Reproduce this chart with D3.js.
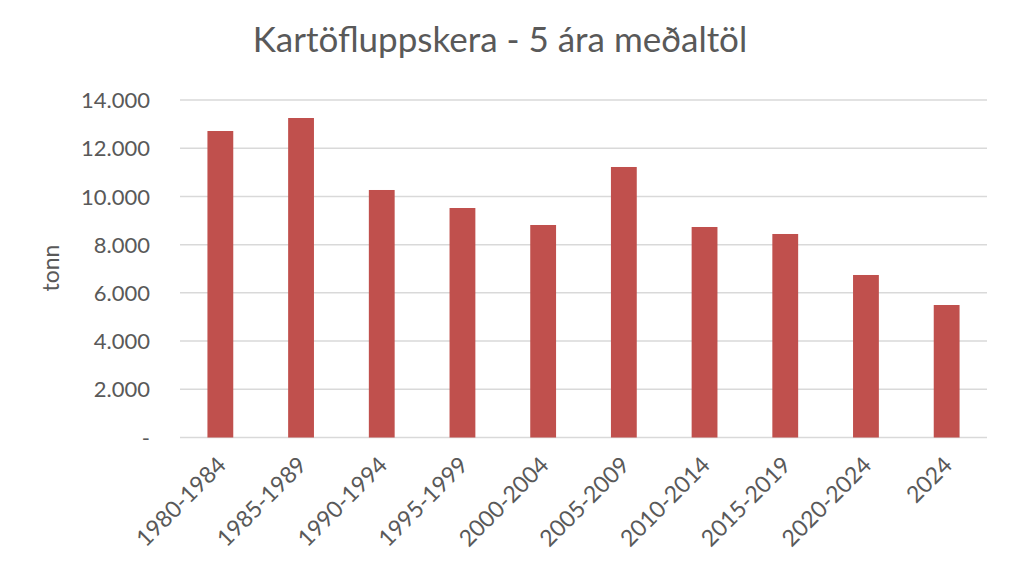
<!DOCTYPE html>
<html>
<head>
<meta charset="utf-8">
<script src="https://cdn.jsdelivr.net/npm/d3@7"></script>
<style>
  html, body { margin: 0; padding: 0; background: #fff; }
  svg { display: block; }
</style>
</head>
<body>
<svg id="chart" width="1013" height="565"></svg>
<script>
const titleText = "Kartöfluppskera - 5 ára meðaltöl";
const yAxisLabel = "tonn";
const categories = ["1980-1984","1985-1989","1990-1994","1995-1999","2000-2004","2005-2009","2010-2014","2015-2019","2020-2024","2024"];
const values = [12714, 13253, 10267, 9520, 8815, 11221, 8732, 8442, 6741, 5496];
const yTicks = [0, 2000, 4000, 6000, 8000, 10000, 12000, 14000];

const W = 1013, H = 565;
const margin = { left: 180, right: 1013 - 987, top: 100, bottom: 565 - 437.5 };
const font = "Lato, 'Open Sans', sans-serif";
const textColor = "#595959";

const svg = d3.select("#chart");
svg.append("rect").attr("width", W).attr("height", H).attr("fill", "#fff");

const x = d3.scaleBand().domain(categories).range([margin.left, W - margin.right]).paddingInner(0.68).paddingOuter(0.34);
const y = d3.scaleLinear().domain([0, 14000]).range([H - margin.bottom, margin.top]);

const fmt = v => v === 0 ? "-" : d3.format(",")(v).replace(/,/g, ".");

// gridlines
svg.append("g").selectAll("line").data(yTicks).join("line")
  .attr("x1", margin.left).attr("x2", W - margin.right)
  .attr("y1", d => y(d)).attr("y2", d => y(d))
  .attr("stroke", "#d9d9d9").attr("stroke-width", 1.5);

// y axis labels
const yAxis = d3.axisLeft(y).tickValues(yTicks).tickFormat(fmt).tickSize(0).tickPadding(0);
const gy = svg.append("g").attr("transform", `translate(150,0)`).call(yAxis);
gy.select(".domain").remove();
gy.selectAll("text").attr("font-family", font).attr("font-size", 22).attr("fill", textColor).attr("dy", "0.35em");

// bars
svg.append("g").selectAll("rect").data(values).join("rect")
  .attr("x", (d, i) => x(categories[i]))
  .attr("width", x.bandwidth())
  .attr("y", d => y(d))
  .attr("height", d => y(0) - y(d))
  .attr("fill", "#c0504d");

// x axis labels
const xAxis = d3.axisBottom(x).tickSize(0).tickPadding(0);
const gx = svg.append("g").attr("transform", `translate(0,${y(0)})`).call(xAxis);
gx.select(".domain").remove();
gx.selectAll("text")
  .attr("font-family", font).attr("font-size", 23).attr("fill", textColor)
  .attr("text-anchor", "end")
  .attr("y", 0).attr("dy", 0)
  .attr("transform", "translate(7,29) rotate(-45)");

// title
svg.append("text").attr("x", 500).attr("y", 52).attr("text-anchor", "middle")
  .attr("font-family", font).attr("font-size", 35).attr("fill", textColor).text(titleText);

// y label
svg.append("text").attr("transform", "translate(59,268) rotate(-90)").attr("text-anchor", "middle")
  .attr("font-family", font).attr("font-size", 23).attr("fill", textColor).text(yAxisLabel);
</script>
</body>
</html>
